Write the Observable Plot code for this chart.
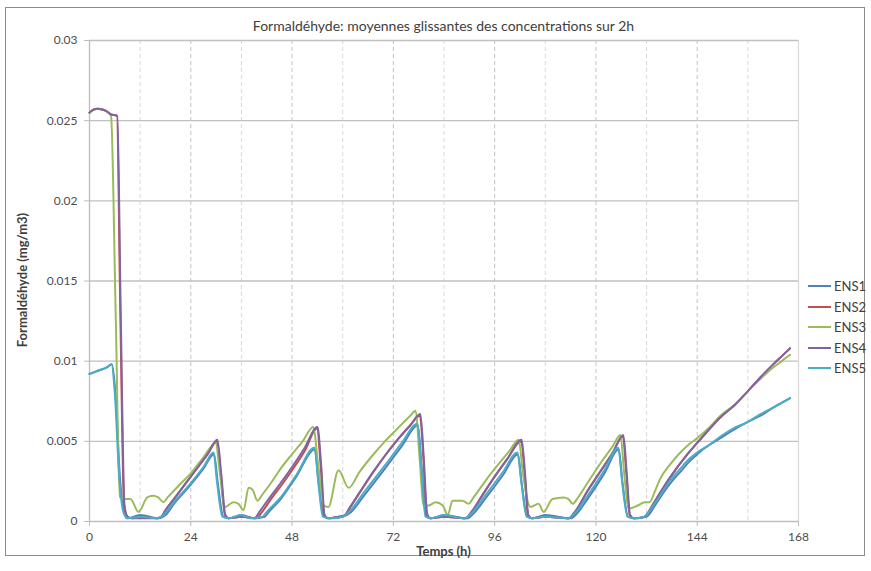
<!DOCTYPE html>
<html><head><meta charset="utf-8">
<script src="https://cdn.jsdelivr.net/npm/d3@7"></script>
<script src="https://cdn.jsdelivr.net/npm/@observablehq/plot@0.6"></script>
<style>
body{margin:0;background:#fff;font-family:Lato,"Open Sans",sans-serif;}
#wrap{position:relative;width:871px;height:571px;overflow:hidden;}
#frame{position:absolute;left:5px;top:7px;width:860px;height:549px;border:1px solid #8c8c8c;box-sizing:border-box;}
#title{position:absolute;left:89px;width:709px;top:17px;text-align:center;font-size:14px;color:#404040;}
#ylab{position:absolute;left:22px;top:280px;transform:translate(-50%,-50%) rotate(-90deg);white-space:nowrap;font-size:13px;font-weight:bold;color:#404040;}
#xlab{position:absolute;left:89px;width:709px;top:543px;text-align:center;font-size:13px;font-weight:bold;color:#404040;}
.leg{position:absolute;left:808px;font-size:13px;color:#404040;display:flex;align-items:center;height:16px;}
.leg span.sw{display:inline-block;width:23px;height:2px;margin-right:3px;}
svg{position:absolute;left:0;top:0;}
</style></head>
<body><div id="wrap"><div id="frame"></div></div>
<script>
const seriesNames = ["ENS1","ENS2","ENS3","ENS4","ENS5"];
const seriesColors = ["#4F81BD","#C0504D","#9BBB59","#8064A2","#4BACC6"];
const yTicks = [0,0.005,0.01,0.015,0.02,0.025,0.03];
const xTicks = [0,24,48,72,96,120,144,168];
const xGridMajor = [24,48,72,96,120,144];
const xGridMinor = [12,36,60,84,108,132,156];
const titleText = "Formaldéhyde: moyennes glissantes des concentrations sur 2h";
const yLabel = "Formaldéhyde (mg/m3)";
const xLabel = "Temps (h)";

const ENS1 = [[0,0.0092],[2,0.0094],[4,0.0096],[5.3,0.0098],[6.2,0.0078],[7.2,0.0028],[8.3,0.0005],[9,0.0002],[12,0.0004],[16.5,0.0002],[18,0.0004],[20,0.0011],[24,0.0023],[27,0.0033],[29.5,0.0042],[30.4,0.0024],[31.7,0.0003],[33,0.0002],[36,0.0004],[39,0.0002],[41.5,0.0003],[42.5,0.0006],[45.3,0.0014],[49,0.0028],[53.4,0.0045],[54.3,0.0024],[55.5,0.0003],[57,0.0002],[60,0.0003],[62,0.0006],[65,0.0016],[70,0.0033],[74,0.0047],[77.8,0.0060],[78.7,0.0034],[79.8,0.0003],[81,0.0002],[84,0.0004],[89.5,0.0002],[91,0.0005],[94,0.0015],[98,0.0029],[101.5,0.0042],[102.4,0.0024],[103.7,0.0003],[105,0.0002],[108,0.0004],[114,0.0002],[115.5,0.0005],[118,0.0014],[122,0.0030],[125.4,0.0045],[126.3,0.0024],[127.6,0.0003],[129,0.0002],[132,0.0003],[134,0.0010],[136,0.0018],[138,0.0025],[140,0.0031],[142,0.0037],[144,0.0042],[147,0.0048],[149.5,0.0052],[152.5,0.0057],[155.9,0.0062],[159,0.0066],[162,0.0071],[164,0.0074],[166,0.0077]];
const ENS2 = [[0,0.0255],[1,0.0257],[2,0.02575],[3,0.0257],[4,0.0256],[5,0.0254],[6.5,0.0253],[7.3,0.0130],[8.2,0.0010],[9,0.0003],[10,0.0002],[12,0.0003],[16,0.0002],[17.1,0.0003],[18,0.0007],[20,0.0014],[22,0.0021],[24,0.0028],[26,0.0035],[28,0.0042],[30.2,0.0050],[31.1,0.0030],[32.1,0.0004],[33,0.0002],[36,0.0003],[39.5,0.0002],[40.9,0.0006],[43,0.0014],[45.3,0.0022],[48,0.0032],[51,0.0044],[53.9,0.0058],[54.8,0.0034],[55.6,0.0004],[56.5,0.0002],[59,0.0003],[60.6,0.0004],[61.6,0.0008],[64,0.0018],[67,0.0030],[70,0.0041],[73,0.0051],[76,0.0060],[78.3,0.0066],[79.1,0.0040],[79.9,0.0005],[80.7,0.0002],[84,0.0003],[89.1,0.0002],[90.6,0.0006],[93,0.0016],[96,0.0028],[99,0.0039],[102.3,0.0050],[103.1,0.0030],[103.9,0.0004],[104.8,0.0002],[108,0.0003],[113.6,0.0002],[115.1,0.0006],[118,0.0019],[121,0.0031],[124,0.0043],[126.4,0.0053],[127.2,0.0030],[128,0.0004],[129,0.0002],[131.5,0.0003],[133.6,0.0011],[135.7,0.0020],[137.7,0.0028],[141.7,0.0042],[144,0.0049],[147,0.0058],[149.5,0.0065],[153,0.0073],[155.9,0.0081],[159,0.0090],[162,0.0098],[164,0.0103],[166,0.0108]];
const ENS3 = [[0,0.0255],[1,0.0257],[2,0.02575],[3,0.0257],[4,0.0256],[5.1,0.0253],[6.2,0.0130],[7.2,0.0015],[8.5,0.0014],[9.7,0.0014],[11.6,0.0006],[13.7,0.0015],[15,0.0016],[16.3,0.0015],[17.5,0.0012],[18.5,0.0015],[21,0.0022],[24,0.0030],[27,0.0040],[29.9,0.0049],[30.9,0.0030],[32,0.0009],[34.1,0.0012],[35.3,0.0011],[36.5,0.0007],[37.7,0.0021],[38.6,0.0020],[39.8,0.0013],[41,0.0017],[43,0.0024],[45.3,0.0033],[48,0.0042],[50.5,0.0050],[53,0.0059],[54.2,0.0035],[55.5,0.0010],[56.6,0.0009],[59,0.0032],[61.4,0.0021],[64,0.0031],[67,0.0041],[70,0.0050],[73,0.0058],[76,0.0066],[77.3,0.0069],[78.2,0.0040],[79.2,0.0010],[80.4,0.0010],[82,0.0012],[83.7,0.0010],[84.9,0.0004],[86,0.0013],[88.4,0.0013],[89.8,0.0011],[91,0.0015],[94,0.0026],[97,0.0036],[99.5,0.0044],[101.7,0.0051],[102.7,0.0030],[104.5,0.0009],[106.4,0.0011],[107.6,0.0006],[109.7,0.0014],[112.3,0.0015],[113.5,0.0014],[114.5,0.0011],[115.5,0.0014],[118,0.0024],[121,0.0036],[124,0.0047],[125.8,0.0054],[126.7,0.0030],[127.7,0.0008],[129.9,0.0010],[131.6,0.0012],[132.7,0.0012],[134,0.0019],[135.1,0.0026],[137.7,0.0036],[140,0.0043],[142,0.0048],[144,0.0052],[147,0.0059],[149.5,0.0066],[153,0.0073],[155.9,0.0081],[159,0.0089],[162,0.0096],[164,0.0100],[166,0.0104]];
const ENS4 = [[0,0.0255],[1,0.0257],[2,0.02575],[3,0.0257],[4,0.0256],[5,0.0254],[6.6,0.0253],[7.4,0.0130],[8.3,0.0010],[9,0.0003],[10,0.0002],[12,0.0002],[14,0.0002],[16,0.0002],[17,0.0003],[18,0.0007],[20,0.0014],[22,0.0021],[24,0.0028],[26,0.0035],[28,0.0042],[30.3,0.0051],[31.2,0.0030],[32.2,0.0004],[33,0.0002],[36,0.0003],[39,0.0002],[40.5,0.0007],[43,0.0016],[45.3,0.0024],[48,0.0034],[51,0.0046],[54,0.0059],[54.9,0.0035],[55.7,0.0004],[56.5,0.0002],[59,0.0003],[60.5,0.0004],[61.5,0.0008],[64,0.0018],[67,0.0030],[70,0.0041],[73,0.0051],[76,0.0060],[78.4,0.0067],[79.2,0.0040],[80,0.0005],[80.7,0.0002],[84,0.0003],[89,0.0002],[90.5,0.0006],[93,0.0016],[96,0.0028],[99,0.0039],[102.4,0.0051],[103.2,0.0030],[104,0.0004],[104.8,0.0002],[108,0.0003],[113.5,0.0002],[115,0.0006],[118,0.0019],[121,0.0031],[124,0.0043],[126.5,0.0054],[127.3,0.0030],[128.1,0.0004],[129,0.0002],[131.5,0.0003],[133.6,0.0011],[135.7,0.0020],[137.7,0.0028],[141.7,0.0042],[144,0.0049],[147,0.0058],[149.5,0.0065],[153,0.0073],[155.9,0.0081],[159,0.0090],[162,0.0098],[164,0.0103],[166,0.0108]];
const ENS5 = [[0,0.0092],[2,0.0094],[4,0.0096],[5.2,0.0098],[6,0.0080],[7,0.0030],[8,0.0006],[9,0.0002],[12,0.0003],[16,0.0002],[17.5,0.0004],[20,0.0012],[24,0.0024],[27,0.0034],[29.4,0.0043],[30.2,0.0025],[31.5,0.0003],[33,0.0002],[36,0.0004],[38,0.0002],[41,0.0003],[42,0.0006],[45.3,0.0015],[49,0.0029],[53.3,0.0046],[54.2,0.0025],[55.3,0.0003],[57,0.0002],[60,0.0003],[61.5,0.0006],[65,0.0018],[70,0.0035],[74,0.0049],[77.7,0.0061],[78.6,0.0035],[79.6,0.0003],[81,0.0002],[84,0.0004],[89,0.0002],[90.5,0.0005],[94,0.0017],[98,0.0031],[101.4,0.0043],[102.3,0.0025],[103.6,0.0003],[105,0.0002],[108,0.0003],[113.5,0.0002],[115,0.0005],[118,0.0016],[122,0.0032],[125.3,0.0046],[126.2,0.0025],[127.5,0.0003],[129,0.0002],[131.5,0.0003],[133.6,0.0010],[135.7,0.0018],[137.7,0.0026],[139.7,0.0032],[141.7,0.0038],[144,0.0043],[147,0.0048],[149.5,0.0053],[152.5,0.0058],[155.9,0.0062],[159,0.0067],[162,0.0071],[164,0.0074],[166,0.0077]];

const seriesData = [ENS1, ENS2, ENS3, ENS4, ENS5];
const rows = [];
seriesData.forEach((arr, i) => arr.forEach(([t, v]) => rows.push({t, v, s: seriesNames[i]})));

const chart = Plot.plot({
  width: 871, height: 571,
  marginLeft: 89, marginRight: 73, marginTop: 40, marginBottom: 50,
  style: {fontFamily: "Lato, 'Open Sans', sans-serif", fontSize: "12px", background: "transparent"},
  x: {domain: [0, 168], label: null},
  y: {domain: [0, 0.03], label: null},
  color: {domain: seriesNames, range: seriesColors},
  marks: [
    Plot.ruleX(xGridMinor, {stroke: "#d9d9d9", strokeWidth: 1, strokeDasharray: "4,3"}),
    Plot.ruleX(xGridMajor, {stroke: "#c4c4c4", strokeWidth: 1, strokeDasharray: "4,3"}),
    Plot.ruleY(yTicks, {stroke: "#c0c0c0", strokeWidth: 1.3}),
    Plot.ruleX([0], {stroke: "#bdbdbd", strokeWidth: 1.3}),
    Plot.ruleX([168], {stroke: "#d9d9d9", strokeWidth: 1.3}),
    Plot.axisY({ticks: yTicks, tickSize: 5, tickPadding: 7, stroke: "#bdbdbd", fill: "#4d4d4d", tickFormat: d => String(d), label: null}),
    Plot.axisX({ticks: xTicks, tickSize: 5, tickPadding: 6, stroke: "#bdbdbd", fill: "#4d4d4d", tickFormat: d => String(d), label: null}),
    Plot.line(rows, {x: "t", y: "v", z: "s", stroke: "s", strokeWidth: 2, curve: "monotone-x"})
  ]
});
const wrap = document.getElementById("wrap");
wrap.appendChild(chart);

const title = document.createElement("div"); title.id = "title"; title.textContent = titleText; wrap.appendChild(title);
const yl = document.createElement("div"); yl.id = "ylab"; yl.textContent = yLabel; wrap.appendChild(yl);
const xl = document.createElement("div"); xl.id = "xlab"; xl.textContent = xLabel; wrap.appendChild(xl);
seriesNames.forEach((n, i) => {
  const d = document.createElement("div");
  d.className = "leg";
  d.style.top = (278 + i * 20.5) + "px";
  const sw = document.createElement("span"); sw.className = "sw"; sw.style.background = seriesColors[i];
  d.appendChild(sw);
  d.appendChild(document.createTextNode(n));
  wrap.appendChild(d);
});
</script></body></html>
